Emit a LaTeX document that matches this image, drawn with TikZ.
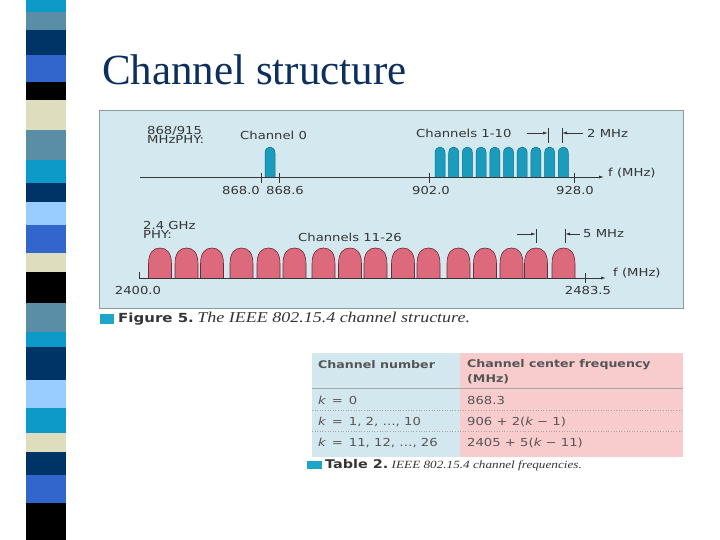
\documentclass[tikz,border=0pt]{standalone}
\usepackage{fontspec}
\setmainfont{Liberation Serif}
\newfontfamily\figfont[FakeStretch=1.2]{DejaVu Sans}
\newfontfamily\capfont[FakeStretch=1.2]{Liberation Serif}
\usetikzlibrary{arrows.meta}
\definecolor{stripcyan}{HTML}{0E9AC8}
\definecolor{stripsteel}{HTML}{5A8EA6}
\definecolor{stripnavy}{HTML}{003366}
\definecolor{stripblue}{HTML}{3366CC}
\definecolor{stripbeige}{HTML}{DEDDBE}
\definecolor{striplight}{HTML}{99CCFF}
\definecolor{titlecol}{HTML}{0C2F5E}
\definecolor{panelfill}{HTML}{D3E8EF}
\definecolor{panelline}{HTML}{8A9AA0}
\definecolor{chanteal}{HTML}{1B9CBC}
\definecolor{chantealdk}{HTML}{0D6F87}
\definecolor{chanred}{HTML}{DC6A7C}
\definecolor{chanreddk}{HTML}{6E2A36}
\definecolor{tabblue}{HTML}{D3E7EE}
\definecolor{tabpink}{HTML}{F8CCCC}
\definecolor{capsq}{HTML}{1EA6C9}
\definecolor{txtgray}{HTML}{353535}
\definecolor{tabtxt}{HTML}{555555}

\begin{document}
\begin{tikzpicture}[x=1pt,y=-1pt]
\tikzstyle{lbl}=[inner sep=0pt,text=txtgray,font=\figfont\fontsize{11}{9.5}\selectfont]
\tikzstyle{tab}=[inner sep=0pt,anchor=west,text=tabtxt,font=\figfont\fontsize{11}{13}\selectfont]
\tikzstyle{tabhd}=[tab,font=\figfont\bfseries\fontsize{10.5}{13}\selectfont]
\tikzstyle{axis}=[line width=0.8pt,color=txtgray,-{Latex[length=5pt,width=3pt]}]
\tikzstyle{tick}=[line width=0.8pt,color=txtgray]
\tikzstyle{gap}=[line width=0.7pt,color=txtgray,-{Latex[length=5pt,width=3pt]}]
\tikzstyle{bumpA}=[fill=chanteal,draw=chantealdk,line width=0.5pt]
\tikzstyle{bumpB}=[fill=chanred,draw=chanreddk,line width=0.6pt]

\fill[white] (0,0) rectangle (720,540);
\useasboundingbox (0,0) rectangle (720,540);

\foreach \ya/\yb/\col in {0/12/stripcyan,12/30/stripsteel,30/55/stripnavy,55/82/stripblue,
  82/100/black,100/130/stripbeige,130/160/stripsteel,160/183/stripcyan,183/202/stripnavy,
  202/225/striplight,225/253/stripblue,253/272/stripbeige,272/303/black,303/332/stripsteel,
  332/347/stripcyan,347/380/stripnavy,380/408/striplight,408/433/stripcyan,433/452/stripbeige,
  452/475/stripnavy,475/503/stripblue,503/540/black}
  \fill[\col] (26,\ya) rectangle (66,\yb);

\node (title) [anchor=base west,inner sep=0pt,text=titlecol,font=\fontsize{43}{48}\selectfont] at (102,85) {Channel structure};

\draw[fill=panelfill,draw=panelline,line width=0.8pt] (99,110) rectangle (683,308);

% 868/915 MHz band
\draw[bumpA] (265,177) -- (265,153) .. controls (265,149) and (267.5,147) .. (270,147)
  .. controls (272.5,147) and (275,149) .. (275,153) -- (275,177);
\foreach \i [evaluate=\i as \cx using 440+13.7*\i] in {0,...,9}
  \draw[bumpA] (\cx-5,177) -- (\cx-5,153) .. controls (\cx-5,149) and (\cx-2.5,147) .. (\cx,147)
    .. controls (\cx+2.5,147) and (\cx+5,149) .. (\cx+5,153) -- (\cx+5,177);

\path (140,177) coordinate (upleft);
\path (604,177) coordinate (upright);
\draw[axis] (upleft) -- (upright);

\path (261,177) coordinate (tA);
\path (279,177) coordinate (tB);
\path (429,177) coordinate (tC);
\path (574,177) coordinate (tD);
\foreach \t in {tA,tB,tC,tD}
  \draw[tick] (\t) +(0,-4) -- +(0,6);

\node (lA) [lbl] at (241,190) {868.0};
\node (lB) [lbl] at (285,190) {868.6};
\node (lC) [lbl] at (431,190) {902.0};
\node (lD) [lbl] at (575,190) {928.0};
\node (fup) [lbl,anchor=west] at (608,173) {f (MHz)};

\node (phyA) [lbl,anchor=west,align=left] at (147,135) {868/915\\MHzPHY:};
\node (ch0) [lbl,anchor=west] at (240,135) {Channel 0};
\node (ch110) [lbl,anchor=west] at (416,133) {Channels 1-10};
\node (mhz2) [lbl,anchor=west] at (587,133) {2 MHz};

\path (548,133) coordinate (gapAl);
\path (562,133) coordinate (gapAr);
\path (527,133) coordinate (gapAlt);
\path (583,133) coordinate (gapArt);
\draw[tick] (gapAl) +(0,-5) -- +(0,10);
\draw[tick] (gapAr) +(0,-5) -- +(0,10);
\draw[gap] (gapAlt) -- (gapAl);
\draw[gap] (gapArt) -- (gapAr);

% 2.4 GHz band
\foreach \cx in {160,186.5,212,241.5,268.5,294.5,323.5,350,375.5,403,428.5,458.5,485,511.5,536,563.5}
  \draw[bumpB] (\cx-11.5,278) -- (\cx-11.5,264) .. controls (\cx-11.5,253) and (\cx-7,248) .. (\cx,248)
    .. controls (\cx+7,248) and (\cx+11.5,253) .. (\cx+11.5,264) -- (\cx+11.5,278);

\path (139,278) coordinate (lowleft);
\path (606,278) coordinate (lowright);
\draw[axis] (lowleft) -- (lowright);
\path (139,278) coordinate (tE);
\path (585,278) coordinate (tF);
\draw[tick] (tE) -- +(0,-6);
\draw[tick] (tF) +(0,-5) -- +(0,5);

\node (lE) [lbl] at (138,290) {2400.0};
\node (lF) [lbl] at (588,290) {2483.5};
\node (flow) [lbl,anchor=west] at (613,273) {f (MHz)};

\node (phyB) [lbl,anchor=west,align=left] at (143,230) {2.4 GHz\\PHY:};
\node (ch1126) [lbl,anchor=west] at (298,237) {Channels 11-26};
\node (mhz5) [lbl,anchor=west] at (583,234) {5 MHz};

\path (536,234) coordinate (gapBl);
\path (565,234) coordinate (gapBr);
\path (517,234) coordinate (gapBlt);
\path (580,234) coordinate (gapBrt);
\draw[tick] (gapBl) +(0,-5) -- +(0,9);
\draw[tick] (gapBr) +(0,-5) -- +(0,9);
\draw[gap] (gapBlt) -- (gapBl);
\draw[gap] (gapBrt) -- (gapBr);

\fill[capsq] (100,314) rectangle (114,324);
\node (figcap) [anchor=west,inner sep=0pt,text=txtgray] at (118,319)
  {{\figfont\bfseries\fontsize{12.5}{14}\selectfont Figure 5.} {\capfont\itshape\fontsize{15}{16}\selectfont The IEEE 802.15.4 channel structure.}};

% table
\fill[tabblue] (312,353) rectangle (460,457);
\fill[tabpink] (460,353) rectangle (683,457);
\draw[line width=0.8pt,color=gray!70] (312,388) -- (683,388);
\draw[dotted,line width=0.6pt,color=gray!70] (312,410) -- (683,410);
\draw[dotted,line width=0.6pt,color=gray!70] (312,431) -- (683,431);

\node (hdA) [tabhd] at (318,365) {Channel number};
\node (hdB) [tabhd] at (467,365) {Channel center frequency};
\node (hdC) [tabhd] at (467,379) {(MHz)};
\node (kA) [tab] at (318,400) {{\itshape k} \,=\, 0};
\node (fA) [tab] at (467,400) {868.3};
\node (kB) [tab] at (318,422) {{\itshape k} \,=\, 1, 2, \dots, 10};
\node (fB) [tab] at (467,422) {906 + 2({\itshape k} − 1)};
\node (kC) [tab] at (318,443) {{\itshape k} \,=\, 11, 12, \dots, 26};
\node (fC) [tab] at (467,443) {2405 + 5({\itshape k} − 11)};

\fill[capsq] (307,461) rectangle (322,469);
\node (tabcap) [anchor=west,inner sep=0pt,text=txtgray] at (325,465)
  {{\figfont\bfseries\fontsize{12}{14}\selectfont Table 2.} {\capfont\itshape\fontsize{11}{12}\selectfont IEEE 802.15.4 channel frequencies.}};

\end{tikzpicture}
\end{document}
